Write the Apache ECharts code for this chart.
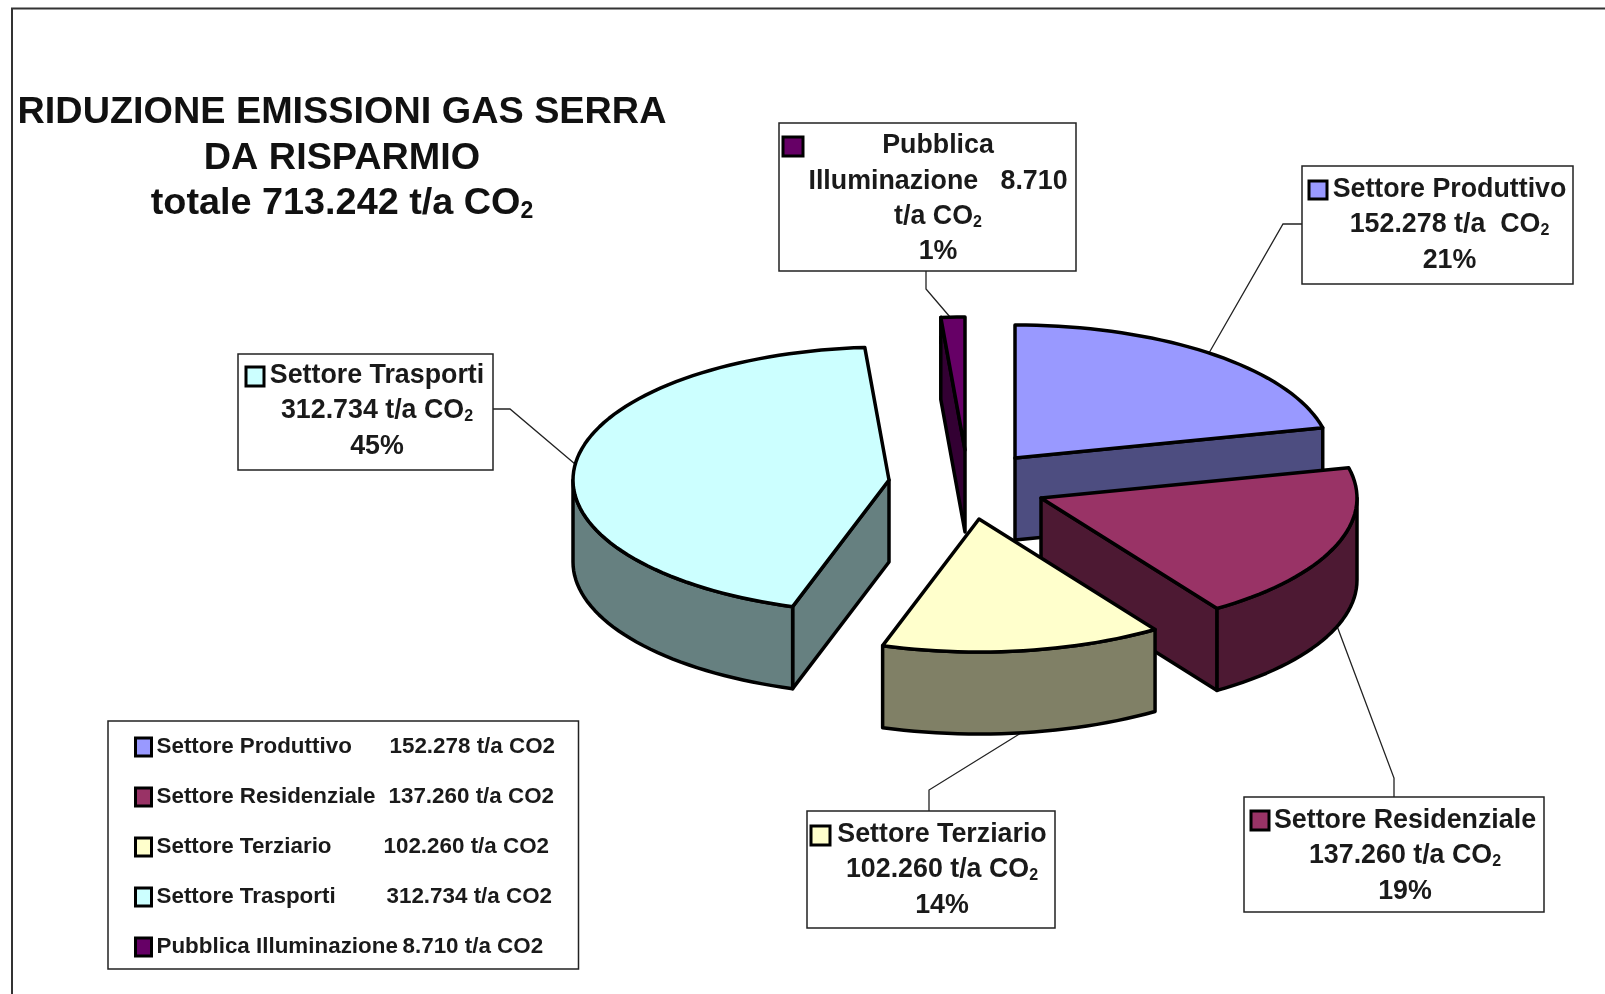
<!DOCTYPE html>
<html><head><meta charset="utf-8">
<style>html,body{margin:0;padding:0;background:#fff;overflow:hidden}#c{width:1605px;height:994px}</style>
<script src="https://cdn.jsdelivr.net/npm/echarts@6/dist/echarts.min.js"></script>
</head><body><div id="c"></div>
<script>
// ---- data ----
const categories = ['Settore Produttivo','Settore Residenziale','Settore Terziario','Settore Trasporti','Pubblica Illuminazione'];
const valuesTA = [152278,137260,102260,312734,8710];
const percentLabels = ['21%','19%','14%','45%','1%'];
const totalLabel = '713.242';
// ---- colours ----
const topColors = ['#9999FF','#993366','#FFFFCC','#CCFFFF','#660066'];
const wallColors = ['#4D4D80','#4D1933','#808066','#668080','#330033'];
// ---- layout of the exploded pie (pixels) ----
const RX = 316, RY = 133, DEPTH = 82;
const apexX = [1015,1041,979,889,965];
const apexY = [458,498,519,480,450];
const drawOrder = [2,4,5,3,1];
// ---- callouts ----
const boxRects = [[1302,166,271,118],[1244,797,300,115],[807,811,248,117],[238,354,255,116],[779,123,297,148]];
const textCentres = [[1449.5,225],[1405,856],[942,870],[377,411],[938,199]];
const swatches = [[1309,181,18,18],[1251,811,18,19],[811,826,19,19],[246,367,18,19],[783,137,20,19]];
const leaders = [
  [[1302,224],[1283,224],[1209,353]],
  [[1394,797],[1394,778],[1337,626]],
  [[929,811],[929,790],[1021,733]],
  [[493,409],[510,409],[575,464]],
  [[926,271],[926,289],[950,317]]
];
const legendNameWidths = [233,232,227,230,246];

const fmt = v => String(v).replace(/\B(?=(\d{3})+$)/g,'.');
const total = valuesTA.reduce((a,b)=>a+b,0);
const startAngles = valuesTA.map((_,i)=>valuesTA.slice(0,i).reduce((a,b)=>a+b,0)/total*2*Math.PI);
const FONT = '"Liberation Sans", Arial, sans-serif';
const CO2 = 'CO{sub|2}';
const labelLines = [
  [categories[0], fmt(valuesTA[0])+' t/a  '+CO2, percentLabels[0]],
  [categories[1], fmt(valuesTA[1])+' t/a '+CO2, percentLabels[1]],
  [categories[2], fmt(valuesTA[2])+' t/a '+CO2, percentLabels[2]],
  [categories[3], fmt(valuesTA[3])+' t/a '+CO2, percentLabels[3]],
  ['Pubblica','Illuminazione   '+fmt(valuesTA[4]),'t/a '+CO2, percentLabels[4]]
];

function pt(i,a,dy){return [apexX[i]+RX*Math.sin(a), apexY[i]-RY*Math.cos(a)+(dy||0)];}
function arc(i,a0,a1,dy){
  const n=Math.max(2,Math.ceil(Math.abs(a1-a0)/(Math.PI/90))),p=[];
  for(let k=0;k<=n;k++)p.push(pt(i,a0+(a1-a0)*k/n,dy));
  return p;
}
const line={stroke:'#000',lineWidth:3.5,lineJoin:'round'};
function makeRender(i){
  return function(params,api){
    const share=api.value(0)/total*2*Math.PI, a0=startAngles[i], a1=a0+share, ch=[];
    const apex=[apexX[i],apexY[i]], apexB=[apexX[i],apexY[i]+DEPTH];
    ch.push({type:'polyline',shape:{points:leaders[i]},style:{fill:null,stroke:'#222',lineWidth:1.3}});
    const poly=(pts,fill)=>ch.push({type:'polygon',shape:{points:pts},style:Object.assign({fill},line)});
    // radial walls that face the viewer
    if(a0>Math.PI&&a0<2*Math.PI){const p=pt(i,a0);poly([apex,p,[p[0],p[1]+DEPTH],apexB],wallColors[i]);}
    if(a1>0&&a1<Math.PI){const p=pt(i,a1);poly([apex,p,[p[0],p[1]+DEPTH],apexB],wallColors[i]);}
    // outer wall, front half only
    const w0=Math.max(a0,Math.PI/2), w1=Math.min(a1,Math.PI*1.5);
    if(w1>w0)poly(arc(i,w0,w1,0).concat(arc(i,w1,w0,DEPTH)),wallColors[i]);
    // top face
    poly([apex].concat(arc(i,a0,a1,0)),topColors[i]);
    // callout
    const b=boxRects[i], s=swatches[i], t=textCentres[i];
    ch.push({type:'rect',shape:{x:b[0],y:b[1],width:b[2],height:b[3]},style:{fill:'#fff',stroke:'#222',lineWidth:1.5}});
    ch.push({type:'rect',shape:{x:s[0],y:s[1],width:s[2],height:s[3]},style:{fill:topColors[i],stroke:'#000',lineWidth:3}});
    ch.push({type:'text',style:{x:t[0],y:t[1],text:labelLines[i].join('\n'),align:'center',verticalAlign:'middle',
      fontFamily:FONT,fontSize:26.8,fontWeight:'bold',lineHeight:35.3,fill:'#1a1a1a',
      rich:{sub:{fontSize:16,fontWeight:'bold',fontFamily:FONT,fill:'#1a1a1a',lineHeight:35.3,padding:[12,0,0,0]}}}});
    return {type:'group',children:ch};
  };
}
const chart=echarts.init(document.getElementById('c'),null,{width:1605,height:994});
const legendFont={fontFamily:FONT,fontSize:22.4,fontWeight:'bold',color:'#1a1a1a',lineHeight:22};
chart.setOption({
  animation:false,
  backgroundColor:'#fff',
  title:{
    left:337,top:85,textAlign:'center',
    text:'RIDUZIONE EMISSIONI GAS SERRA\nDA RISPARMIO\ntotale '+totalLabel+' t/a CO{s|2}',
    textStyle:{fontFamily:FONT,fontSize:37.8,fontWeight:'bold',color:'#111',lineHeight:45.5,
      rich:{s:{fontFamily:FONT,fontSize:23,fontWeight:'bold',color:'#111',lineHeight:45.5,padding:[16,0,0,0]}}}
  },
  legend:{
    orient:'vertical',left:108,top:721,padding:[15,6,11,26],
    backgroundColor:'#fff',borderColor:'#222',borderWidth:1.5,
    itemWidth:16,itemHeight:18,itemGap:28,icon:'rect',selectedMode:false,
    itemStyle:{borderColor:'#000',borderWidth:3},
    data:categories,
    formatter:name=>{const i=categories.indexOf(name);return '{n'+i+'|'+name+'}{v|'+fmt(valuesTA[i])+' t/a CO2}';},
    textStyle:Object.assign({},legendFont,{
      rich:Object.assign({v:Object.assign({},legendFont,{width:170})},
        Object.fromEntries(legendNameWidths.map((w,i)=>['n'+i,Object.assign({},legendFont,{width:w})])))})
  },
  graphic:[{type:'polyline',silent:true,shape:{points:[[12,994],[12,8.5],[1605,8.5]]},style:{fill:null,stroke:'#333',lineWidth:2}}],
  series:categories.map((name,i)=>({
    type:'custom',name,coordinateSystem:'none',z:drawOrder[i],silent:true,
    itemStyle:{color:topColors[i]},
    data:[[valuesTA[i]]],
    renderItem:makeRender(i)
  }))
});
</script></body></html>
